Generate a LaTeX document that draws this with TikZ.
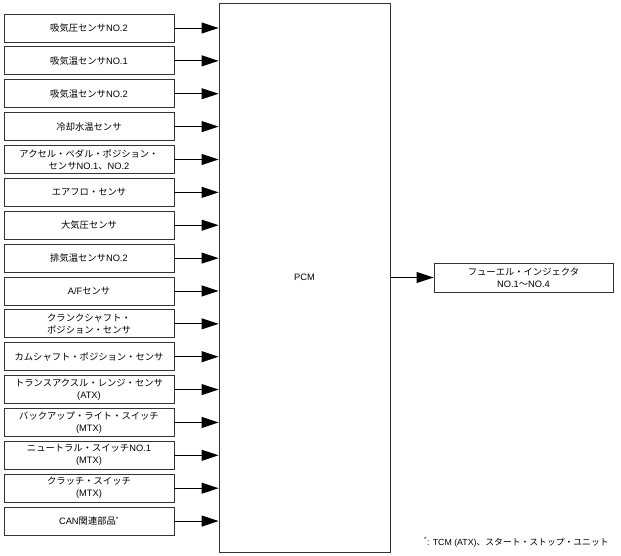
\documentclass[tikz,border=0pt]{standalone}
\usepackage{fontspec}
\setmainfont{Liberation Sans}
\newfontfamily\jp{Noto Sans CJK JP}
\usetikzlibrary{arrows.meta}
\newcommand{\J}[1]{{\jp #1}}
\begin{document}
\begin{tikzpicture}[x=1pt,y=-1pt,
  sensor/.style={draw=black!80, line width=0.9pt, minimum width=170pt, minimum height=28pt,
    inner sep=0pt, align=center, font=\fontsize{9.3}{12}\selectfont},
  bigbox/.style={draw=black!80, line width=0.9pt, inner sep=0pt, font=\fontsize{9.3}{12}\selectfont},
  arr/.style={line width=0.9pt, -{Triangle[length=17pt,width=11pt]}}]
\useasboundingbox (0,0) rectangle (621,555);
\node[bigbox, minimum width=171pt, minimum height=549pt] (pcm) at (304.5,277.5) {PCM};
\node[sensor] (s0) at (89,28) {\J{吸気圧センサ}NO.2};
\node[sensor] (s1) at (89,60.87) {\J{吸気温センサ}NO.1};
\node[sensor] (s2) at (89,93.74) {\J{吸気温センサ}NO.2};
\node[sensor] (s3) at (89,126.61) {\J{冷却水温センサ}};
\node[sensor] (s4) at (89,159.48) {\J{アクセル・ペダル・ポジション・}\\\J{センサ}NO.1\J{、}NO.2};
\node[sensor] (s5) at (89,192.35) {\J{エアフロ・センサ}};
\node[sensor] (s6) at (89,225.22) {\J{大気圧センサ}};
\node[sensor] (s7) at (89,258.09) {\J{排気温センサ}NO.2};
\node[sensor] (s8) at (89,290.96) {A/F\J{センサ}};
\node[sensor] (s9) at (89,323.83) {\J{クランクシャフト・}\\\J{ポジション・センサ}};
\node[sensor] (s10) at (89,356.7) {\J{カムシャフト・ポジション・センサ}};
\node[sensor] (s11) at (89,389.57) {\J{トランスアクスル・レンジ・センサ}\\(ATX)};
\node[sensor] (s12) at (89,422.44) {\J{バックアップ・ライト・スイッチ}\\(MTX)};
\node[sensor] (s13) at (89,455.31) {\J{ニュートラル・スイッチ}NO.1\\(MTX)};
\node[sensor] (s14) at (89,488.18) {\J{クラッチ・スイッチ}\\(MTX)};
\node[sensor] (s15) at (89,521.05) {CAN\J{関連部品}\textsuperscript{*}};
\foreach \i in {0,...,15} {
  \draw[arr] (s\i.east) -- (s\i.east -| pcm.west);
}
\node[sensor, minimum width=179pt, minimum height=29pt] (out) at (523.5,277.5)
  {\J{フューエル・インジェクタ}\\NO.1\J{〜}NO.4};
\draw[arr] (pcm) -- (out);
\node[anchor=west, inner sep=0pt, font=\fontsize{8.8}{10}\selectfont] (note) at (424,542)
  {\textsuperscript{*}: TCM (ATX)\J{、スタート・ストップ・ユニット}};
\end{tikzpicture}
\end{document}
